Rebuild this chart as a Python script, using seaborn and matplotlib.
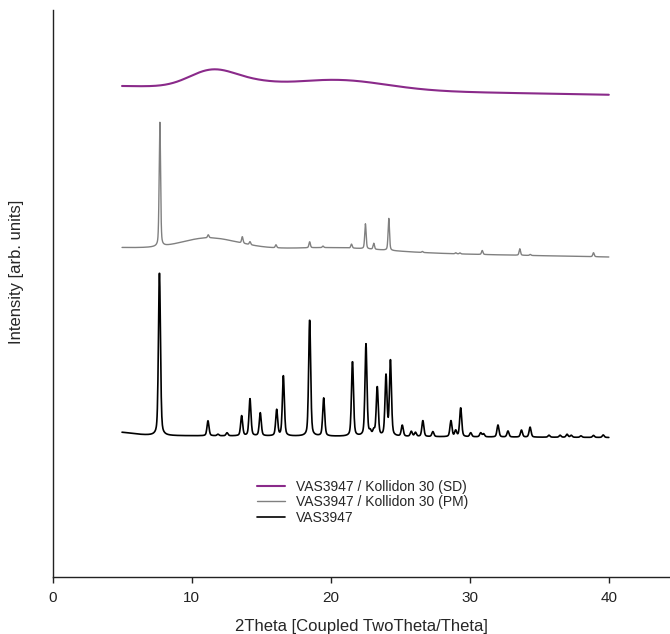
import numpy as np
import pandas as pd
import matplotlib
matplotlib.use("Agg")
import matplotlib.pyplot as plt
import seaborn as sns

# --- Diffraction data: peak lists (2theta [deg], height [arb. units]) ---
# VAS3947 (crystalline drug)
vas_pos = [7.69, 11.18, 11.9, 12.55, 13.6, 14.2, 14.94, 16.12, 16.6, 18.49, 19.5,
           21.57, 22.54, 22.85, 23.1, 23.35, 23.98, 24.3, 25.15, 25.8, 26.1, 26.63,
           27.35, 28.65, 28.99, 29.35, 30.07, 30.79, 31.0, 32.03, 32.75, 33.72,
           34.34, 35.7, 36.5, 37.0, 37.3, 38.0, 38.9, 39.6]
vas_height = [164, 15, 1.5, 3, 20, 37, 23, 26, 60, 117, 38,
              75, 92, 4, 5, 49, 60, 75, 11, 5, 4, 16,
              5, 16, 6, 29, 4, 4, 3, 12, 6, 7,
              10, 2, 2, 3, 2, 1.5, 2, 2.5]
# physical mixture with Kollidon 30
pm_pos = [7.72, 11.2, 13.65, 14.2, 16.07, 18.49, 19.45, 21.5, 22.5, 23.1, 24.18,
          26.6, 29.0, 29.3, 30.9, 33.6, 34.35, 38.9]
pm_height = [124, 3, 6.5, 3, 3, 6, 1.5, 4, 25, 6, 32,
             1, 1, 1, 4, 6.5, 1, 4]

# amorphous halos (centre, height, sigma) and baseline levels at 5 and 40 deg
vas_halo_c, vas_halo_h, vas_halo_s = [4.5], [3.5], [1.2]
pm_halo_c, pm_halo_h, pm_halo_s = [11.2, 14.0, 20.5], [11, 1.5, 4], [1.87, 1.5, 3.5]
sd_halo_c, sd_halo_h, sd_halo_s = [11.4, 14.0, 20.5], [16, 5, 10], [1.63, 1.8, 3.5]
vas_base = [141.5, 139.5]
pm_base = [329.5, 320.0]
sd_base = [491.0, 482.25]

labels = ["VAS3947 / Kollidon 30 (SD)", "VAS3947 / Kollidon 30 (PM)", "VAS3947"]
colors = ["#8a2a8a", "#808080", "#000000"]
widths = [1.5, 1.0, 1.2]

two_theta = np.arange(5.0, 40.0001, 0.02)


def pseudo_voigt(x, c, h, fwhm, eta=0.4):
    s = fwhm / 2.3548
    g = np.exp(-(x - c) ** 2 / (2 * s ** 2))
    l = 1.0 / (1.0 + ((x - c) / (fwhm / 2)) ** 2)
    return h * (eta * l + (1 - eta) * g)


def pattern(base, halo_c, halo_h, halo_s, pos=(), height=(), fwhm=0.15):
    y = np.interp(two_theta, [5.0, 40.0], base)
    for c, h, s in zip(halo_c, halo_h, halo_s):
        y = y + h * np.exp(-(two_theta - c) ** 2 / (2 * s ** 2))
    for c, h in zip(pos, height):
        y = y + pseudo_voigt(two_theta, c, h, fwhm)
    return y


curves = [
    pattern(sd_base, sd_halo_c, sd_halo_h, sd_halo_s),
    pattern(pm_base, pm_halo_c, pm_halo_h, pm_halo_s, pm_pos, pm_height, 0.12),
    pattern(vas_base, vas_halo_c, vas_halo_h, vas_halo_s, vas_pos, vas_height, 0.17),
]

df = pd.concat(
    [pd.DataFrame({"two_theta": two_theta, "intensity": y, "sample": lab})
     for y, lab in zip(curves, labels)],
    ignore_index=True,
)

sns.set_style("ticks")
plt.rcParams["font.family"] = ["Liberation Sans", "DejaVu Sans"]

fig = plt.figure(figsize=(6.70, 6.34), dpi=100)
ax = fig.add_axes([52.5 / 670, 57 / 634, 617.5 / 670, 567 / 634])

for lab, col, lw in zip(labels, colors, widths):
    sns.lineplot(data=df[df["sample"] == lab], x="two_theta", y="intensity",
                 color=col, linewidth=lw, label=lab, sort=False,
                 errorbar=None, estimator=None, ax=ax)

ax.set_xlim(0, 44.4)
ax.set_ylim(0, 567)
ax.set_xticks([0, 10, 20, 30, 40])
ax.set_yticks([])
ax.tick_params(axis="x", direction="out", length=4, width=1, colors="#222222",
               labelsize=11, pad=6)
for side in ("top", "right"):
    ax.spines[side].set_visible(False)
for side in ("left", "bottom"):
    ax.spines[side].set_color("#222222")
    ax.spines[side].set_linewidth(1.0)

ax.set_xlabel("2Theta [Coupled TwoTheta/Theta]", fontsize=12, labelpad=10)
ax.set_ylabel("Intensity [arb. units]", fontsize=12)
ax.yaxis.set_label_coords(-0.046, 0.538)

ax.legend(loc="center left", bbox_to_anchor=(0.331, 0.132), frameon=False,
          fontsize=10, handlelength=2.0, handletextpad=0.8, labelspacing=0.1,
          borderpad=0, borderaxespad=0)

fig.savefig("out.png", dpi=100)
